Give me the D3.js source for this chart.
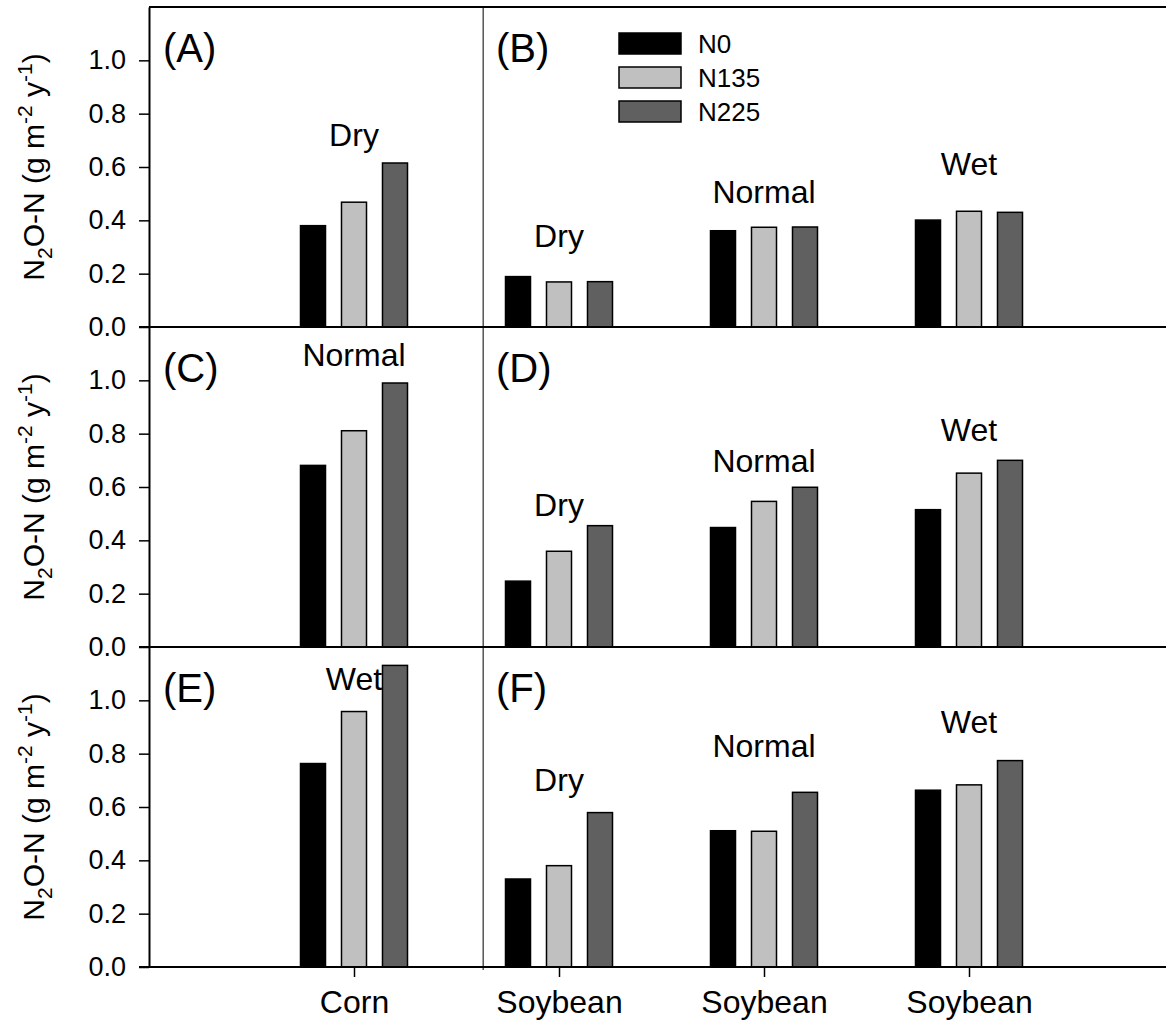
<!DOCTYPE html>
<html>
<head>
<meta charset="utf-8">
<style>
  body { margin: 0; background: #fff; }
  svg text { font-family: "Liberation Sans", Arial, sans-serif; fill: #000; }
</style>
</head>
<body>
<svg id="chart" width="1166" height="1024"></svg>
<script src="https://cdn.jsdelivr.net/npm/d3@7"></script>
<script>
// treatments and fills
const treatments = ['N0', 'N135', 'N225'];
const fills = ['#000000', '#c0c0c0', '#606060'];

// x categories (position 1 = corn, 2..4 = soybean)
const crops = ['Corn', 'Soybean', 'Soybean', 'Soybean'];
const yTicks = [0, 0.2, 0.4, 0.6, 0.8, 1.0];

// panel letters per row: [left, right]
const panelLetters = [['(A)', '(B)'], ['(C)', '(D)'], ['(E)', '(F)']];

// corn panels (A, C, E): one group each
const cornClimate = ['Dry', 'Normal', 'Wet'];
const cornValues = [
  [0.380, 0.468, 0.615],
  [0.681, 0.811, 0.990],
  [0.763, 0.958, 1.131]
];
const cornLabelY = [0.68, 1.055, 1.04];

// soybean panels (B, D, F): three groups each
const soyClimate = ['Dry', 'Normal', 'Wet'];
const soyValues = [
  [[0.189, 0.169, 0.170], [0.361, 0.374, 0.375], [0.401, 0.434, 0.430]],
  [[0.247, 0.359, 0.455], [0.448, 0.546, 0.599], [0.515, 0.652, 0.700]],
  [[0.330, 0.380, 0.579], [0.511, 0.509, 0.655], [0.663, 0.683, 0.774]]
];
const soyLabelY = [
  [0.30, 0.465, 0.57],
  [0.493, 0.655, 0.773],
  [0.661, 0.786, 0.879]
];

const svg = d3.select('#chart');
const left = 149, top0 = 7, panelH = 320, dividerPos = 1.63;

const x = d3.scaleLinear().domain([0, 5]).range([left, 1174]);
const offset = d3.scalePoint().domain(treatments).range([-0.2, 0.2]);
const barW = x(0.122) - x(0);
const color = d3.scaleOrdinal().domain(treatments).range(fills);

const fontStack = '"Liberation Sans", Arial, sans-serif';

for (let r = 0; r < 3; r++) {
  const t = top0 + r * panelH;
  const base = t + panelH;
  const y = d3.scaleLinear().domain([0, 1.2]).range([base, t]);
  const g = svg.append('g');

  // bars: corn group first, then the soybean groups
  const groups = [{pos: 1, vals: cornValues[r], label: cornClimate[r], ly: cornLabelY[r]}];
  soyValues[r].forEach((v, i) => groups.push({pos: i + 2, vals: v, label: soyClimate[i], ly: soyLabelY[r][i]}));

  const grp = g.selectAll('.grp').data(groups).enter().append('g');
  grp.selectAll('rect')
    .data(d => d.vals.map((v, i) => ({pos: d.pos, t: treatments[i], v})))
    .enter().append('rect')
    .attr('x', d => x(d.pos + offset(d.t)) - barW / 2)
    .attr('y', d => y(d.v))
    .attr('width', barW)
    .attr('height', d => y(0) - y(d.v))
    .attr('fill', d => color(d.t))
    .attr('stroke', '#000')
    .attr('stroke-width', 1.5);

  grp.append('text')
    .attr('x', d => x(d.pos))
    .attr('y', d => y(d.ly))
    .attr('text-anchor', 'middle')
    .attr('font-size', 32)
    .text(d => d.label);

  // y axis
  const ya = g.append('g')
    .attr('transform', `translate(${left},0)`)
    .call(d3.axisLeft(y).tickValues(yTicks).tickFormat(d3.format('.1f'))
      .tickSize(10).tickSizeOuter(0).tickPadding(13));
  ya.select('.domain').attr('stroke-width', 2);
  ya.selectAll('.tick line').attr('stroke-width', 1.5);
  ya.selectAll('.tick text').attr('font-size', 27).attr('font-family', fontStack);

  // baseline
  g.append('line')
    .attr('x1', left - 10).attr('x2', 1166)
    .attr('y1', base).attr('y2', base)
    .attr('stroke', '#000').attr('stroke-width', 2);

  // y label
  const yl = g.append('text')
    .attr('transform', `translate(44,${(t + base) / 2}) rotate(-90)`)
    .attr('text-anchor', 'middle')
    .attr('font-size', 30);
  yl.append('tspan').text('N');
  yl.append('tspan').attr('font-size', 21).attr('dy', 8).text('2');
  yl.append('tspan').attr('dy', -8).text('O-N (g m');
  yl.append('tspan').attr('font-size', 21).attr('dy', -12).text('-2');
  yl.append('tspan').attr('dy', 12).text(' y');
  yl.append('tspan').attr('font-size', 21).attr('dy', -12).text('-1');
  yl.append('tspan').attr('dy', 12).text(')');

  // panel letters
  g.append('text').attr('x', 163).attr('y', t + 55).attr('font-size', 40).text(panelLetters[r][0]);
  g.append('text').attr('x', 496).attr('y', t + 55).attr('font-size', 40).text(panelLetters[r][1]);
}

// top frame and divider
svg.append('line')
  .attr('x1', left).attr('x2', 1166).attr('y1', top0).attr('y2', top0)
  .attr('stroke', '#000').attr('stroke-width', 2);
svg.append('line')
  .attr('x1', x(dividerPos)).attr('x2', x(dividerPos))
  .attr('y1', top0).attr('y2', top0 + 3 * panelH + 3)
  .attr('stroke', '#000').attr('stroke-width', 1);

// x axis
const xa = svg.append('g')
  .attr('transform', `translate(0,${top0 + 3 * panelH})`)
  .call(d3.axisBottom(x).tickValues([1, 2, 3, 4]).tickFormat(d => crops[d - 1])
    .tickSize(10).tickPadding(13));
xa.select('.domain').remove();
xa.selectAll('.tick line').attr('stroke-width', 1.5);
xa.selectAll('.tick text').attr('font-size', 32).attr('font-family', fontStack);

// legend
const lg = svg.append('g').attr('transform', 'translate(619,33)');
const item = lg.selectAll('g').data(treatments).enter().append('g')
  .attr('transform', (d, i) => `translate(0,${i * 34})`);
item.append('rect')
  .attr('width', 62).attr('height', 21)
  .attr('fill', d => color(d))
  .attr('stroke', '#000').attr('stroke-width', 1.5);
item.append('text')
  .attr('x', 79).attr('y', 10.5).attr('dy', '0.35em')
  .attr('font-size', 26)
  .text(d => d);
</script>
</body>
</html>
